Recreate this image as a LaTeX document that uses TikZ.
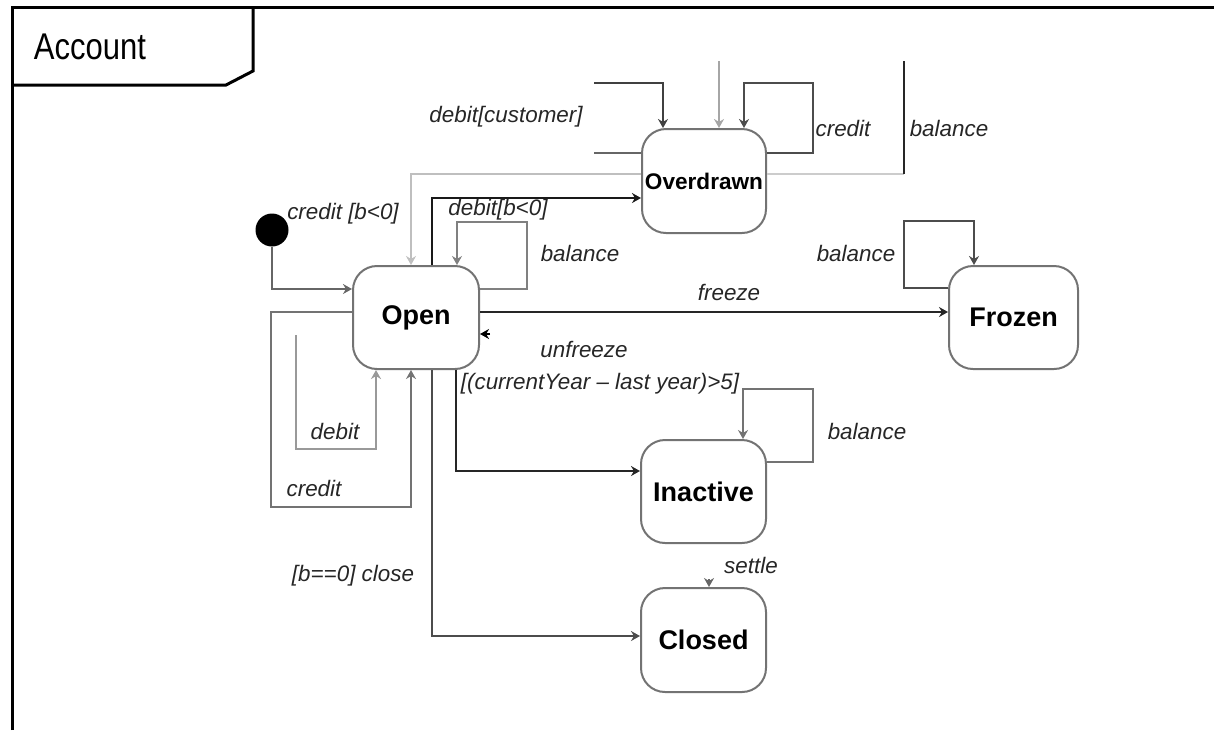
\documentclass[tikz,border=0pt]{standalone}
\usepackage{fontspec}
\setmainfont{Liberation Sans}
\usetikzlibrary{positioning, arrows.meta}

\begin{document}
\begin{tikzpicture}[x=0.5pt, y=-0.5pt,
    stbox/.style = {draw=black!55, line width=1pt, rounded corners=12pt, fill=white, minimum width=63pt, minimum height=51.5pt, inner sep=0pt, font=\fontsize{13.5}{16}\selectfont\bfseries},
    lbl/.style = {inner sep=0pt, text=black!85, font=\fontsize{11.2}{13}\selectfont\itshape},
    trans/.style = {line width=1pt, -{Stealth[length=4.5pt, width=5pt]}},
    seg/.style = {line width=1pt}]
    \useasboundingbox (0,0) rectangle (1214,730);

    % 框架
    \draw[line width=1.5pt] (12,730) -- (12,7) -- (1214,7);
    \draw[line width=1.5pt] (253,7) -- (253,71) -- (226,85) -- (12,85);
    \node[font=\fontsize{15.5}{18}\selectfont] (acct) at (90,47) {\scalebox{1}[1.2]{Account}};

    % 状态定义
    \node[stbox] (open) at (416,317.5) {Open};
    \node[stbox, minimum width=62pt, minimum height=52pt, font=\fontsize{11.3}{13}\selectfont\bfseries] (odrawn) at (704,181) {Overdrawn};
    \node[stbox, minimum width=64.5pt] (frozen) at (1013.5,317.5) {Frozen};
    \node[stbox, minimum width=62.5pt] (inactive) at (703.5,491.5) {Inactive};
    \node[stbox, minimum width=62.5pt, minimum height=52pt] (closed) at (703.5,640) {Closed};
    \node[circle, fill=black, minimum size=16.5pt, inner sep=0pt] (start) at (272,230) {};

    % 自由端点
    \coordinate (balcorner) at (904,174);
    \coordinate (baltop) at (904,61);
    \coordinate (dcin) at (594,83);
    \coordinate (dcout) at (594,153);
    \coordinate (odtop) at (719,61);
    \coordinate (unf) at (490,334);
    \coordinate (stl) at (709,579);
    \coordinate (dbtop) at (296,335);

    % 转移定义
    \draw[trans, black!60] (start) |- (open.west |- 0,289);
    \draw[trans, black!90] (open.north -| 432,0) |- (odrawn.west |- 0,198);
    \draw[trans, black!25] (odrawn.west |- 0,174) -| (open.north -| 411,0);
    \draw[seg, black!20] (odrawn.east |- 0,174) -- (balcorner);
    \draw[seg, black!85] (balcorner) -- (baltop);
    \draw[trans, black!75] (dcin) -| (odrawn.north -| 663,0);
    \draw[seg, black!60] (odrawn.west |- 0,153) -- (dcout);
    \draw[trans, black!35] (odtop) -- (odrawn.north -| odtop);
    \draw[trans, black!70] (odrawn.east |- 0,153) -- (813,153) |- (744,83) -- (odrawn.north -| 744,0);
    \draw[trans, black!50] (open.east |- 0,289) -- (527,289) |- (457,222) -- (open.north -| 457,0);
    \draw[trans, black!85] (open.east |- 0,312) -- (frozen.west |- 0,312);
    \draw[trans, black] (unf) -- (open.east |- unf);
    \draw[trans, black!70] (frozen.west |- 0,288) -- (904,288) |- (974,221) -- (frozen.north -| 974,0);
    \draw[trans, black!85] (open.south -| 456,0) |- (inactive.west |- 0,471);
    \draw[trans, black!55] (inactive.east |- 0,462) -- (813,462) |- (743,389) -- (inactive.north -| 743,0);
    \draw[trans, black!70] (open.south -| 432,0) |- (closed.west |- 0,636);
    \draw[trans, black!60] (stl) -- (closed.north -| stl);
    \draw[trans, black!40] (dbtop) |- (376,449) -- (open.south -| 376,0);
    \draw[trans, black!55] (open.west |- 0,312) -| (271,507) -| (open.south -| 411,0);

    % 标签
    \node[lbl] (lstart) at (343,214) {credit [b<0]};
    \node[lbl] (ldebitneg) at (498,210) {debit[b<0]};
    \node[lbl] (lbalopen) at (580,253) {balance};
    \node[lbl] (ldebitcust) at (506,117) {debit[customer]};
    \node[lbl] (lcreditod) at (843,128) {credit};
    \node[lbl] (lbalod) at (949,128) {balance};
    \node[lbl] (lfreeze) at (729,292) {freeze};
    \node[lbl] (lbalfrozen) at (856,253) {balance};
    \node[lbl] (lunfreeze) at (584,349) {unfreeze};
    \node[lbl] (linactive) at (600,384) {[(currentYear – last year)>5]};
    \node[lbl] (lbalinactive) at (867,431) {balance};
    \node[lbl] (ldebit) at (335,431) {debit};
    \node[lbl] (lcredit) at (314,488) {credit};
    \node[lbl] (lclose) at (353,576) {[b==0] close};
    \node[lbl] (lsettle) at (751,565) {settle};
\end{tikzpicture}
\end{document}
